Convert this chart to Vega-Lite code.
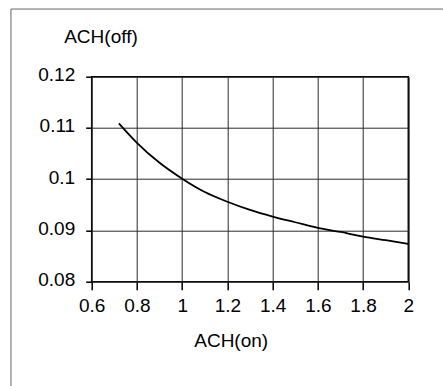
{
  "$schema": "https://vega.github.io/schema/vega-lite/v6.json",
  "width": 316.6,
  "height": 205,
  "autosize": "none",
  "padding": {"left": 91.7, "top": 76.7, "right": 34.7, "bottom": 104.3},
  "background": "white",
  "config": {
    "font": "Liberation Sans",
    "view": {"stroke": "black", "strokeWidth": 1.5}
  },
  "layer": [
    {
      "data": {"values": [{"frame": "outer"}]},
      "mark": {"type": "rect", "fill": null, "stroke": "#666", "strokeWidth": 1, "clip": false},
      "encoding": {
        "x": {"datum": 0.243, "type": "quantitative"},
        "x2": {"datum": 2.25},
        "y": {"datum": 0.1332, "type": "quantitative"},
        "y2": {"datum": 0.055}
      }
    },
    {
      "data": {
        "values": [
          {"on": 0.72, "off": 0.1109},
          {"on": 0.8, "off": 0.1071},
          {"on": 0.9, "off": 0.1032},
          {"on": 1.0, "off": 0.1001},
          {"on": 1.1, "off": 0.0975},
          {"on": 1.2, "off": 0.0956},
          {"on": 1.3, "off": 0.0940},
          {"on": 1.4, "off": 0.0927},
          {"on": 1.5, "off": 0.0916},
          {"on": 1.6, "off": 0.0905},
          {"on": 1.7, "off": 0.0897},
          {"on": 1.8, "off": 0.0888},
          {"on": 1.9, "off": 0.0881},
          {"on": 2.0, "off": 0.0874}
        ]
      },
      "mark": {"type": "line", "color": "black", "strokeWidth": 1.8, "interpolate": "monotone"},
      "encoding": {
        "x": {
          "field": "on",
          "type": "quantitative",
          "scale": {"domain": [0.6, 2], "nice": false, "zero": false},
          "axis": {
            "title": "ACH(on)",
            "values": [0.6, 0.7, 0.8, 0.9, 1.0, 1.1, 1.2, 1.3, 1.4, 1.5, 1.6, 1.7, 1.8, 1.9, 2.0],
            "grid": true,
            "gridColor": "#2a2a2a",
            "gridWidth": 1,
            "gridOpacity": 1,
            "domain": false,
            "tickColor": "black",
            "tickWidth": 1.5,
            "tickSize": 8,
            "tickOpacity": {"condition": {"test": "round(datum.value*10)%2==1", "value": 0}, "value": 1},
            "labelExpr": "round(datum.value*10)%2==1 ? '' : format(datum.value, '.1~f')",
            "labelOverlap": false,
            "labelFontSize": 19,
            "labelColor": "black",
            "labelPadding": 7,
            "labelFlush": false,
            "titleFontSize": 19,
            "titleFontWeight": "normal",
            "titleColor": "black",
            "titleX": 139,
            "titleY": 65,
            "titleAlign": "center",
            "titleBaseline": "alphabetic"
          }
        },
        "y": {
          "field": "off",
          "type": "quantitative",
          "scale": {"domain": [0.08, 0.12], "nice": false, "zero": false},
          "axis": {
            "title": "ACH(off)",
            "values": [0.08, 0.09, 0.1, 0.11, 0.12],
            "format": ".2~f",
            "grid": true,
            "gridColor": "#2a2a2a",
            "gridWidth": 1,
            "gridOpacity": 1,
            "domain": false,
            "tickColor": "black",
            "tickWidth": 1.5,
            "tickSize": 6,
            "labelFontSize": 19,
            "labelColor": "black",
            "labelPadding": 11,
            "labelOffset": -2,
            "labelFlush": false,
            "titleFontSize": 19,
            "titleFontWeight": "normal",
            "titleColor": "black",
            "titleAngle": 0,
            "titleAlign": "left",
            "titleBaseline": "alphabetic",
            "titleX": -28,
            "titleY": -34
          }
        }
      }
    }
  ]
}
